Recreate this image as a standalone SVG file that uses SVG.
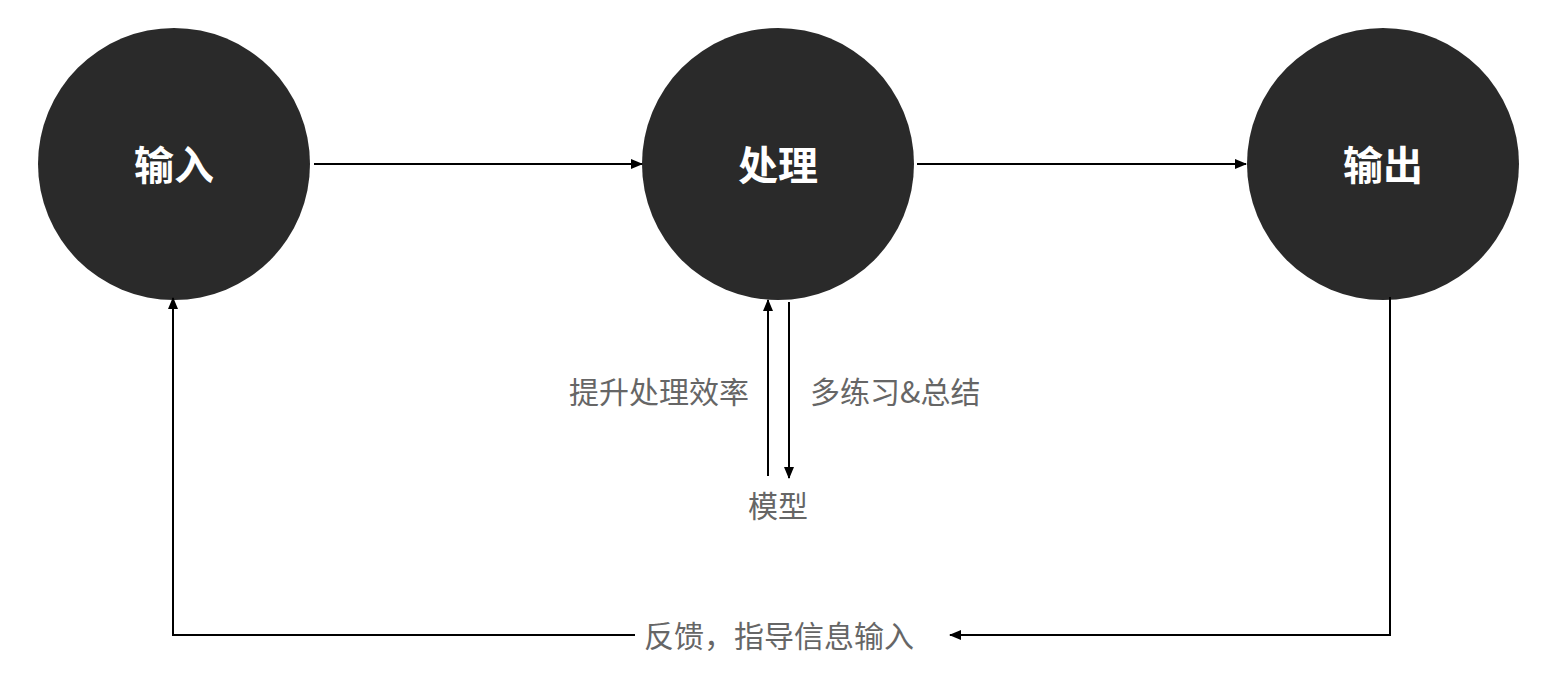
<svg xmlns="http://www.w3.org/2000/svg" width="1544" height="700" viewBox="0 0 1544 700">
<style>
.node{fill:#2a2a2a}
.nl{fill:#ffffff;font-family:"Noto Sans CJK SC","Noto Sans",sans-serif;font-weight:bold;font-size:40px;text-anchor:middle;dominant-baseline:central}
.lb{fill:#666666;font-family:"Noto Sans CJK SC","Noto Sans",sans-serif;font-size:30px;dominant-baseline:central}
.ln{stroke:#000;stroke-width:2;fill:none}
</style>
<defs>
<marker id="ah" markerWidth="12" markerHeight="10" refX="11" refY="5" orient="auto" markerUnits="userSpaceOnUse">
<path d="M0,0 L12,5 L0,10 Z" fill="#000"/>
</marker>
</defs>
<rect width="1544" height="700" fill="#fff"/>
<g id="node-input"><circle class="node" cx="174" cy="164" r="136"/><text class="nl" x="174" y="163">输入</text></g>
<g id="node-process"><circle class="node" cx="778" cy="164" r="136"/><text class="nl" x="778" y="163">处理</text></g>
<g id="node-output"><circle class="node" cx="1383" cy="164" r="136"/><text class="nl" x="1383" y="163">输出</text></g>
<g id="node-model"><text class="lb" x="778" y="504" text-anchor="middle">模型</text></g>
<g id="connectors">
<line class="ln" x1="314" y1="164" x2="642" y2="164" marker-end="url(#ah)"/>
<line class="ln" x1="917" y1="164" x2="1246" y2="164" marker-end="url(#ah)"/>
<line class="ln" x1="768" y1="476" x2="768" y2="300" marker-end="url(#ah)"/>
<line class="ln" x1="789" y1="302" x2="789" y2="478" marker-end="url(#ah)"/>
<polyline class="ln" points="1390,297 1390,635 950,635" marker-end="url(#ah)"/>
<polyline class="ln" points="635,635 173,635 173,298" marker-end="url(#ah)"/>
<text class="lb" x="749" y="390" text-anchor="end">提升处理效率</text>
<text class="lb" x="810" y="390" text-anchor="start">多练习&amp;总结</text>
<text class="lb" x="644" y="634" text-anchor="start">反馈，指导信息输入</text>
</g>
</svg>
